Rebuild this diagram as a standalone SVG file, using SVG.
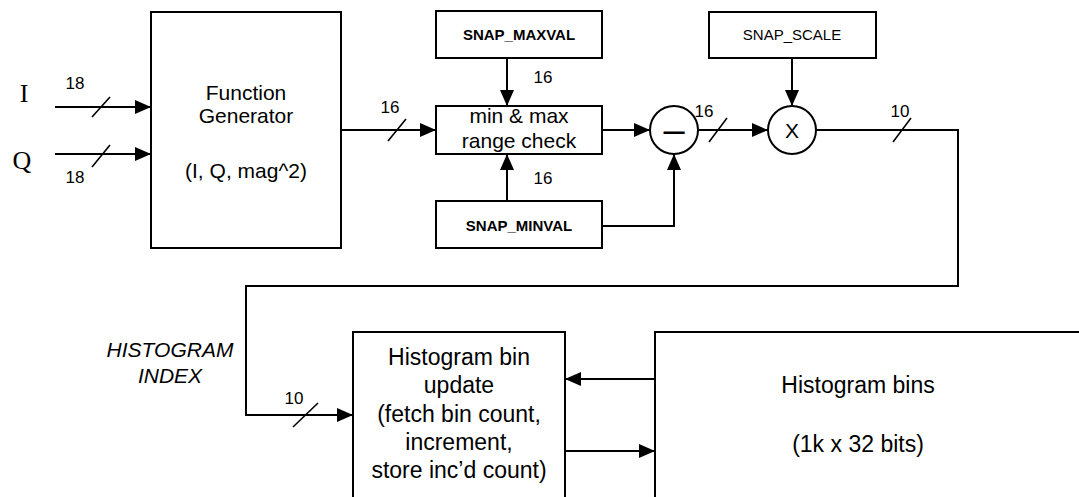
<svg xmlns="http://www.w3.org/2000/svg" width="1079" height="497" viewBox="0 0 1079 497">
<style>
.box{fill:#fff;stroke:#000;stroke-width:2}
.ln{fill:none;stroke:#000;stroke-width:2}
.sl{fill:none;stroke:#000;stroke-width:1.6}
.t{font-family:"Liberation Sans",Arial,sans-serif;fill:#000;text-anchor:middle}
.b{font-size:21px}
.h{font-size:23px}
.n{font-size:17px}
.s{font-size:15px}
.bold{font-weight:bold}
.it{font-style:italic;font-size:21px}
.serif{font-family:"Liberation Serif","Times New Roman",serif;font-size:26px;fill:#000;text-anchor:middle}
</style>
<defs>
<marker id="ah" markerUnits="userSpaceOnUse" markerWidth="17" markerHeight="15" refX="16" refY="7" orient="auto">
<path d="M0,0 L16,7 L0,14 z" fill="#000"/>
</marker>
</defs>
<rect width="1079" height="497" fill="#fff"/>

<g id="connectors">
<line class="ln" x1="55" y1="107" x2="151" y2="107" marker-end="url(#ah)"/>
<line class="ln" x1="55" y1="154" x2="151" y2="154" marker-end="url(#ah)"/>
<line class="ln" x1="341" y1="130" x2="436" y2="130" marker-end="url(#ah)"/>
<line class="ln" x1="507" y1="58" x2="507" y2="106" marker-end="url(#ah)"/>
<line class="ln" x1="507" y1="201" x2="507" y2="154" marker-end="url(#ah)"/>
<line class="ln" x1="602" y1="130" x2="650" y2="130" marker-end="url(#ah)"/>
<path class="ln" d="M602,226 H674 V154" marker-end="url(#ah)"/>
<line class="ln" x1="698" y1="130" x2="768" y2="130" marker-end="url(#ah)"/>
<line class="ln" x1="792" y1="58" x2="792" y2="106" marker-end="url(#ah)"/>
<path class="ln" d="M816,130 H958 V286 H246 V415 H353" marker-end="url(#ah)"/>
<line class="ln" x1="655" y1="379" x2="565" y2="379" marker-end="url(#ah)"/>
<line class="ln" x1="565" y1="451" x2="655" y2="451" marker-end="url(#ah)"/>
<line class="sl" x1="92" y1="117" x2="110" y2="97"/>
<line class="sl" x1="92" y1="167" x2="110" y2="145"/>
<line class="sl" x1="388" y1="141" x2="406" y2="119"/>
<line class="sl" x1="709" y1="142" x2="727" y2="118"/>
<line class="sl" x1="893" y1="142" x2="911" y2="118"/>
<line class="sl" x1="293" y1="427" x2="318" y2="403"/>
<text class="t n" x="75" y="89">18</text>
<text class="t n" x="75" y="183">18</text>
<text class="t n" x="390" y="113">16</text>
<text class="t n" x="543" y="83">16</text>
<text class="t n" x="543" y="184">16</text>
<text class="t n" x="704" y="117">16</text>
<text class="t n" x="900" y="117">10</text>
<text class="t n" x="294" y="404">10</text>
<text class="t it" x="170" y="357">HISTOGRAM</text>
<text class="t it" x="170" y="383">INDEX</text>
</g>

<g id="input-I"><text class="serif" x="24" y="102">I</text></g>
<g id="input-Q"><text class="serif" x="22" y="169">Q</text></g>

<g id="function-generator">
<rect class="box" x="151" y="12" width="190" height="236"/>
<text class="t b" x="246" y="100">Function</text>
<text class="t b" x="246" y="123">Generator</text>
<text class="t b" x="246" y="178">(I, Q, mag^2)</text>
</g>

<g id="snap-maxval">
<rect class="box" x="436" y="11" width="166" height="47"/>
<text class="t s bold" x="519" y="40">SNAP_MAXVAL</text>
</g>

<g id="range-check">
<rect class="box" x="436" y="106" width="166" height="48"/>
<text class="t b" x="519" y="123">min &amp; max</text>
<text class="t b" x="519" y="148">range check</text>
</g>

<g id="snap-minval">
<rect class="box" x="436" y="201" width="166" height="47"/>
<text class="t s bold" x="519" y="231">SNAP_MINVAL</text>
</g>

<g id="subtract">
<circle class="box" cx="674" cy="130" r="24"/>
<text class="t" style="font-size:38px" x="674" y="143">–</text>
</g>

<g id="snap-scale">
<rect class="box" x="709" y="12" width="167" height="46"/>
<text class="t s" x="792" y="40">SNAP_SCALE</text>
</g>

<g id="multiply">
<circle class="box" cx="792" cy="130" r="24"/>
<text class="t b" x="792" y="138">X</text>
</g>

<g id="bin-update">
<rect class="box" x="353" y="332" width="212" height="200"/>
<text class="t h" x="459" y="365">Histogram bin</text>
<text class="t h" x="459" y="393">update</text>
<text class="t h" x="459" y="422">(fetch bin count,</text>
<text class="t h" x="459" y="450">increment,</text>
<text class="t h" x="459" y="478">store inc’d count)</text>
</g>

<g id="histogram-bins">
<rect class="box" x="655" y="332" width="460" height="200"/>
<text class="t h" x="858" y="393">Histogram bins</text>
<text class="t h" x="858" y="452">(1k x 32 bits)</text>
</g>
</svg>
